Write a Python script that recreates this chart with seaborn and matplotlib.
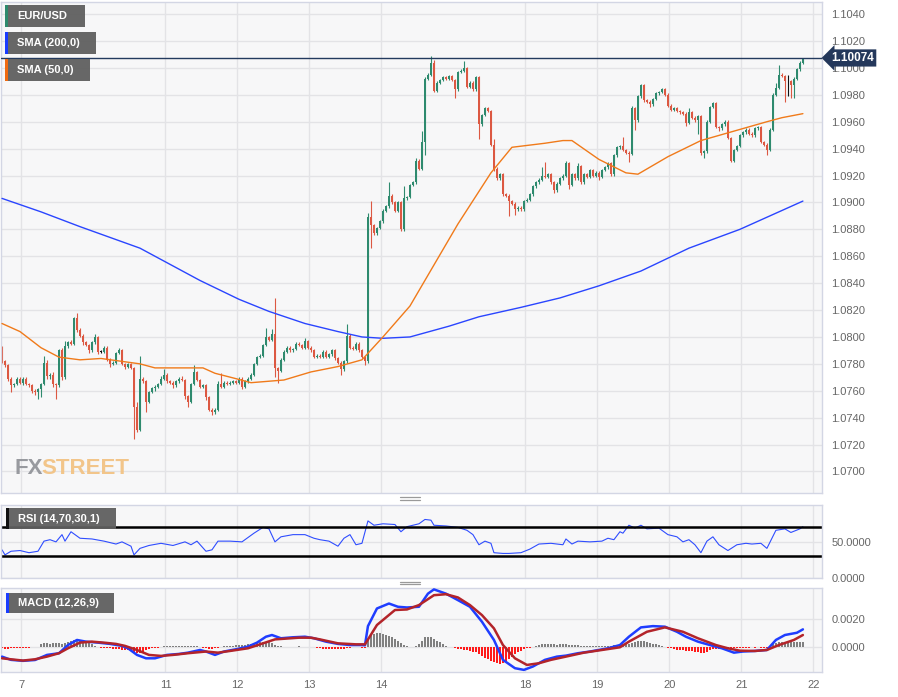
import numpy as np
import matplotlib
matplotlib.use("Agg")
import matplotlib.pyplot as plt
import matplotlib.transforms as mtransforms
from matplotlib.patches import Rectangle
from matplotlib.lines import Line2D
import seaborn as sns

# EUR/USD hourly closes, one list per trading day (hour index 0 = Dec 7 00:00)
open_first = 1.0791
close_dec06 = [1.0782, 1.0779, 1.0769, 1.0764, 1.0765, 1.0769, 1.0766]
close_dec07 = [1.0769, 1.0765, 1.0764, 1.0760, 1.0759, 1.0761, 1.0765, 1.0781, 1.0771, 1.0772, 1.0765, 1.0764,
               1.0790, 1.0770, 1.0793, 1.0796, 1.0795, 1.0814, 1.0805, 1.0801, 1.0796, 1.0794, 1.0790, 1.0796]
close_dec08 = [1.0800, 1.0789, 1.0789, 1.0792, 1.0783, 1.0780, 1.0781, 1.0788, 1.0790, 1.0780, 1.0778, 1.0780,
               1.0777, 1.0748, 1.0731, 1.0769, 1.0767, 1.0752, 1.0759, 1.0762, 1.0763, 1.0765, 1.0769, 1.0772]
close_dec11 = [1.0767, 1.0766, 1.0764, 1.0767, 1.0769, 1.0768, 1.0756, 1.0752, 1.0765, 1.0774, 1.0768, 1.0763,
               1.0764, 1.0755, 1.0746, 1.0744, 1.0746, 1.0765, 1.0763, 1.0766, 1.0765, 1.0766, 1.0767, 1.0766]
close_dec12 = [1.0769, 1.0763, 1.0767, 1.0769, 1.0772, 1.0780, 1.0785, 1.0786, 1.0794, 1.0800, 1.0798, 1.0802,
               1.0777, 1.0775, 1.0783, 1.0789, 1.0792, 1.0790, 1.0791, 1.0795, 1.0794, 1.0792, 1.0797, 1.0792]
close_dec13 = [1.0790, 1.0785, 1.0786, 1.0785, 1.0789, 1.0785, 1.0787, 1.0790, 1.0784, 1.0781, 1.0776, 1.0782,
               1.0801, 1.0792, 1.0791, 1.0795, 1.0790, 1.0785, 1.0782, 1.0889, 1.0883, 1.0877, 1.0881, 1.0886]
close_dec14 = [1.0894, 1.0897, 1.0905, 1.0900, 1.0894, 1.0900, 1.0880, 1.0903, 1.0904, 1.0913, 1.0915, 1.0931,
               1.0925, 1.0945, 1.0992, 1.0995, 1.1004, 1.0983, 1.0989, 1.0991, 1.0993, 1.0992, 1.0994, 1.0991]
close_dec15 = [1.0984, 1.0997, 1.0998, 1.1000, 1.0986, 1.0989, 1.0984, 1.0993, 1.0958, 1.0965, 1.0970, 1.0968,
               1.0943, 1.0925, 1.0918, 1.0921, 1.0906, 1.0905, 1.0901, 1.0899, 1.0895, 1.0896, 1.0895, 1.0901]
close_dec18 = [1.0902, 1.0906, 1.0912, 1.0915, 1.0917, 1.0920, 1.0919, 1.0921, 1.0915, 1.0909, 1.0914, 1.0918,
               1.0920, 1.0929, 1.0913, 1.0921, 1.0918, 1.0927, 1.0915, 1.0921, 1.0919, 1.0924, 1.0920, 1.0922]
close_dec19 = [1.0919, 1.0924, 1.0926, 1.0929, 1.0921, 1.0935, 1.0941, 1.0942, 1.0939, 1.0937, 1.0936, 1.0970,
               1.0961, 1.0979, 1.0987, 1.0976, 1.0975, 1.0973, 1.0977, 1.0981, 1.0982, 1.0984, 1.0980, 1.0972]
close_dec20 = [1.0969, 1.0970, 1.0968, 1.0967, 1.0966, 1.0959, 1.0967, 1.0963, 1.0961, 1.0964, 1.0937, 1.0938,
               1.0960, 1.0971, 1.0974, 1.0956, 1.0955, 1.0958, 1.0960, 1.0948, 1.0931, 1.0939, 1.0942, 1.0950]
close_dec21 = [1.0952, 1.0954, 1.0951, 1.0950, 1.0955, 1.0956, 1.0945, 1.0943, 1.0939, 1.0954, 1.0980, 1.0985,
               1.0995, 1.0994, 1.0990, 1.0990, 1.0987, 1.0992, 1.0999, 1.1004, 1.10074]

# wick lengths beyond the candle body, in pips
wick_up = ([2, 1, 1, 1, 1, 1, 1] +
           [1, 1, 1, 1, 1, 1, 1, 5, 2, 1, 2, 1, 1, 2, 4, 1, 2, 1, 4, 2, 1, 1, 1, 1] +
           [2, 1, 1, 1, 1, 1, 1, 1, 2, 1, 1, 1, 1, 1, 4, 17, 1, 1, 1, 1, 1, 1, 2, 4] +
           [1, 1, 1, 1, 1, 2, 1, 1, 1, 5, 1, 1, 1, 1, 1, 1, 1, 2, 8, 1, 1, 1, 1, 1] +
           [1, 1, 1, 1, 1, 1, 1, 1, 1, 7, 1, 4, 27, 1, 1, 1, 1, 1, 1, 1, 1, 1, 2, 1] +
           [1, 1, 1, 1, 1, 1, 1, 1, 1, 1, 1, 1, 9, 1, 1, 1, 1, 1, 1, 3, 12, 1, 1, 1] +
           [1, 1, 10, 1, 1, 1, 1, 9, 1, 1, 1, 2, 1, 8, 1, 1, 5, 2, 1, 1, 1, 1, 1, 1] +
           [1, 1, 1, 5, 1, 1, 1, 1, 1, 1, 1, 1, 1, 4, 1, 1, 1, 1, 1, 1, 1, 1, 1, 1] +
           [1, 1, 1, 1, 1, 6, 10, 1, 1, 1, 1, 1, 1, 2, 1, 1, 1, 2, 1, 1, 1, 1, 1, 1] +
           [1, 1, 1, 1, 1, 1, 1, 1, 7, 1, 1, 2, 1, 1, 1, 1, 1, 1, 1, 1, 1, 1, 1, 1] +
           [1, 1, 1, 1, 1, 1, 3, 1, 1, 1, 1, 1, 1, 1, 1, 1, 1, 1, 1, 1, 1, 1, 1, 1] +
           [1, 1, 1, 1, 1, 1, 1, 1, 1, 1, 1, 4, 7, 1, 1, 5, 1, 1, 1, 1, 0])
wick_dn = ([1, 1, 2, 5, 1, 1, 1] +
           [2, 1, 1, 2, 2, 5, 6, 1, 2, 2, 2, 10, 1, 2, 1, 1, 1, 1, 1, 1, 2, 1, 2, 1] +
           [1, 2, 1, 1, 1, 2, 1, 1, 1, 1, 2, 1, 1, 24, 2, 1, 1, 8, 1, 1, 2, 1, 1, 1] +
           [1, 1, 2, 1, 1, 1, 2, 4, 1, 1, 1, 1, 1, 2, 1, 2, 1, 1, 1, 1, 1, 1, 1, 1] +
           [1, 2, 1, 1, 1, 1, 1, 1, 1, 1, 1, 1, 7, 9, 1, 1, 1, 1, 1, 1, 1, 1, 1, 1] +
           [1, 1, 1, 1, 1, 1, 1, 1, 1, 1, 4, 1, 1, 1, 1, 1, 1, 1, 3, 1, 17, 1, 1, 1] +
           [1, 1, 1, 1, 1, 1, 1, 1, 1, 1, 1, 1, 1, 1, 10, 1, 1, 1, 1, 1, 1, 1, 1, 1] +
           [6, 1, 1, 1, 1, 1, 1, 1, 11, 1, 1, 1, 1, 2, 1, 1, 1, 1, 11, 1, 4, 1, 1, 1] +
           [1, 1, 1, 1, 1, 1, 1, 1, 1, 2, 1, 1, 1, 1, 3, 1, 1, 1, 1, 1, 1, 1, 1, 1] +
           [2, 1, 1, 1, 1, 1, 1, 1, 1, 1, 6, 1, 7, 1, 1, 1, 1, 2, 1, 1, 1, 1, 1, 1] +
           [1, 1, 1, 1, 1, 2, 1, 1, 1, 10, 2, 4, 1, 1, 1, 1, 2, 1, 1, 1, 1, 1, 1, 1] +
           [1, 1, 1, 1, 1, 1, 1, 1, 4, 1, 1, 1, 1, 1, 15, 11, 9, 9, 1, 1, 1])

# moving averages, sampled at hour index
sma200_t = [-7, 6, 19, 39, 59, 72, 82, 94, 105, 113, 120, 129, 142, 152, 166, 179, 192, 206, 222, 239, 249, 260]
sma200 = [1.0903, 1.0893, 1.0882, 1.0866, 1.0842, 1.0828, 1.0819, 1.0810, 1.0804, 1.0800, 1.0799, 1.0800,
          1.0808, 1.0815, 1.0822, 1.0829, 1.0838, 1.0849, 1.0866, 1.0880, 1.0890, 1.0901]
sma50_t = [-7, -1, 6, 12, 19, 26, 39, 44, 60, 64, 71, 76, 87, 96, 105, 113, 120, 129, 145, 156, 163, 174,
           180, 183, 192, 201, 205, 215, 226, 237, 248, 253, 260]
sma50 = [1.0810, 1.0804, 1.0792, 1.0785, 1.0783, 1.0784, 1.0780, 1.0777, 1.0777, 1.0773, 1.0769, 1.0766,
         1.0768, 1.0774, 1.0778, 1.0783, 1.0800, 1.0823, 1.0884, 1.0922, 1.0941, 1.0944, 1.0946, 1.0946,
         1.0932, 1.0922, 1.0921, 1.0934, 1.0946, 1.0953, 1.0960, 1.0963, 1.0966]

# RSI (14)
rsi_t = [-7, -6, -4, -1, 2, 5, 7, 9, 11, 13, 14, 16, 19, 23, 27, 31, 33, 35, 36, 37, 39, 42, 46, 50, 54, 56,
         58, 61, 63, 65, 69, 73, 77, 80, 82, 84, 86, 90, 94, 97, 99, 102, 105, 107, 109, 111, 113, 115, 117,
         120, 124, 126, 128, 132, 134, 136, 137, 141, 145, 148, 150, 152, 154, 156, 157, 160, 162, 166, 169,
         172, 176, 180, 181, 183, 185, 189, 193, 195, 197, 199, 200, 202, 204, 206, 208, 212, 215, 218, 220,
         222, 224, 226, 228, 230, 232, 235, 238, 241, 243, 246, 248, 251, 254, 256, 259, 260]
rsi = [39, 32, 37, 38, 35, 37, 51, 53, 50, 60, 51, 64, 55, 54, 51, 47, 50, 46, 44, 32, 41, 45, 48, 45, 50, 46,
       51, 37, 39, 51, 51, 50, 62, 70, 68, 50, 57, 60, 60, 55, 53, 51, 44, 55, 60, 46, 48, 79, 73,
       75, 74, 64, 71, 75, 81, 80, 73, 72, 70, 66, 60, 46, 51, 48, 35, 34, 34, 35, 40,
       47, 48, 46, 54, 47, 51, 50, 51, 55, 53, 64, 62, 73, 69, 73, 68, 69, 60, 57, 50,
       53, 46, 35, 51, 57, 46, 38, 46, 48, 47, 48, 41, 66, 68, 63, 68, 71]

# MACD (12,26,9) in units of 1e-5
macd_t = [-7, -4, 0, 4, 8, 12, 15, 18, 21, 25, 29, 33, 35, 38, 41, 44, 48, 52, 55, 59, 61, 64, 67, 71, 75, 78,
          81, 83, 86, 90, 94, 97, 101, 105, 109, 113, 114, 115, 118, 122, 125, 128, 132, 135, 137, 141, 145,
          149, 153, 157, 160, 164, 167, 170, 174, 178, 181, 185, 189, 195, 199, 202, 206, 210, 214, 218, 221,
          225, 229, 233, 237, 240, 244, 248, 251, 254, 258, 260]
macd_e5 = [-66, -89, -96, -90, -54, -42, 16, 52, 40, 33, 24, 10, -7, -54, -78, -78, -54, -47, -38, -19, -30, -54,
           -30, -14, 5, 33, 75, 87, 64, 71, 75, 64, 40, 24, 16, 16, 14, 150, 275, 310, 287, 282, 287, 380, 410,
           380, 334, 287, 181, 52, -89, -148, -160, -136, -89, -66, -59, -42, -30, -7, 16, 75, 141, 150, 146,
           110, 75, 40, 16, -7, -38, -30, -26, -19, 52, 87, 103, 127]
signal_t = [-7, -4, 0, 4, 8, 12, 15, 19, 23, 27, 31, 34, 38, 42, 46, 50, 55, 61, 65, 69, 75, 80, 84, 92, 96,
            99, 105, 111, 114, 118, 124, 128, 132, 137, 141, 145, 149, 153, 157, 160, 164, 168, 172, 176, 181,
            187, 193, 199, 202, 208, 214, 220, 225, 231, 235, 239, 244, 248, 252, 257, 260]
signal_e5 = [-78, -85, -94, -85, -66, -42, -7, 33, 40, 33, 24, 10, -19, -54, -61, -54, -42, -30, -38, -26, -7,
             28, 56, 68, 68, 56, 28, 21, 21, 158, 264, 268, 299, 369, 376, 353, 299, 228, 134, 16, -78, -125,
             -113, -89, -66, -38, -19, 0, 40, 110, 141, 110, 64, 16, -7, -24, -26, -19, 16, 52, 87]
hist_e5 = ([-8, -10, -10, -8, -6, -5, -4] +
           [-3, -2, -2, -1, 0, 3, 20, 28, 28, 26, 28, 30, 28, 26, 30, 35, 42, 50, 52, 50, 46, 40, 32, 22] +
           [10, 4, -3, -6, -8, -8, -10, -12, -15, -18, -20, -22, -26, -32, -38, -38, -32, -22, -14, -8, -5, -2, 4, 8] +
           [10, 10, 12, 12, 10, 10, 12, 12, 10, 10, 8, 4, -4, -8, -10, -10, -8, -4, 4, 8, 10, 12, 12, 14] +
           [14, 16, 18, 20, 22, 26, 30, 34, 38, 40, 38, 30, 18, 10, 6, 5, 5, 4, 4, 5, 6, 5, 4, 3] +
           [2, 0, -4, -8, -10, -12, -12, -14, -14, -14, -12, -10, -4, -2, -1, 0, -1, -2, -2, 60, 85, 95, 100, 98] +
           [95, 88, 82, 75, 62, 48, 30, 14, 6, 4, 4, 10, 25, 45, 70, 72, 70, 60, 48, 38, 25, 12, 5, 2] +
           [-6, -10, -14, -18, -22, -26, -30, -35, -50, -62, -75, -85, -95, -105, -112, -116, -110, -100, -85,
            -70, -50, -35, -25, -15] +
           [-8, -2, 4, 12, 18, 20, 22, 22, 20, 20, 18, 20, 22, 20, 18, 16, 14, 14, 12, 12, 10, 10, 8, 8] +
           [8, 8, 10, 12, 12, 14, 16, 18, 20, 22, 24, 30, 38, 42, 45, 42, 38, 32, 26, 20, 15, 10, 4, -2] +
           [-8, -12, -16, -20, -22, -25, -26, -28, -32, -36, -40, -38, -30, -22, -15, -12, -10, -10, -8, -10,
            -12, -8, -6, -4] +
           [-3, -2, -2, -1, -2, -1, -2, -3, -2, 10, 22, 30, 35, 38, 38, 36, 35, 35, 36, 36, 36])

day_start = [0, 48, 72, 96, 120, 168, 192, 216, 240, 264]
day_labels = ["7", "11", "12", "13", "14", "18", "19", "20", "21", "22"]

UP, DOWN = "#2e8a6e", "#dc5842"
GRID = "#e3e3e6"
W, H = 898, 697

sns.set_style("white")
plt.rcParams["font.family"] = ["Liberation Sans", "DejaVu Sans"]

closes = np.array(close_dec06 + close_dec07 + close_dec08 + close_dec11 + close_dec12 + close_dec13 +
                  close_dec14 + close_dec15 + close_dec18 + close_dec19 + close_dec20 + close_dec21)
n = min(len(closes), len(wick_up), len(wick_dn), len(hist_e5))
closes = closes[:n]
t = np.arange(-7, -7 + n)
opens = np.r_[open_first, closes[:-1]]
body_lo = np.minimum(opens, closes)
body_hi = np.maximum(opens, closes)
highs = body_hi + np.array(wick_up[:n]) * 1e-4
lows = body_lo - np.array(wick_dn[:n]) * 1e-4
ccol = np.where(closes > opens + 1e-7, UP, np.where(closes < opens - 1e-7, DOWN, "#111111"))

fig = plt.figure(figsize=(W / 100, H / 100), dpi=100)
fig.patch.set_facecolor("white")


def panel(top, bottom):
    return fig.add_axes([0.5 / W, 1 - bottom / H, 821 / W, (bottom - top) / H])


ax = panel(2, 493)
ax_rsi = panel(505, 578)
ax_macd = panel(588, 672)

grid_x = [d - 0.5 for d in day_start]
for a in (ax, ax_rsi, ax_macd):
    a.set_facecolor("#f7f7f8")
    a.set_xlim(-7.5, 266.2)
    a.set_xticks(grid_x)
    a.grid(True, color=GRID, lw=1)
    a.set_axisbelow(True)
    for s in a.spines.values():
        s.set_color("#d3d6e4")
        s.set_linewidth(1)
    a.yaxis.tick_right()
    a.tick_params(axis="y", length=0, pad=7, labelsize=8, labelcolor="#666666")
    a.tick_params(axis="x", length=0, labelbottom=False)

# main price panel
ax.vlines(t, lows, highs, colors=ccol, lw=0.8, zorder=2)
ax.bar(t, np.maximum(body_hi - body_lo, 0.00003), bottom=body_lo, width=0.72, color=ccol, lw=0, zorder=2.5)
sns.lineplot(x=sma200_t, y=sma200, ax=ax, color="#2a45ff", lw=1, zorder=3, legend=False)
sns.lineplot(x=sma50_t, y=sma50, ax=ax, color="#f07a1a", lw=1, zorder=3, legend=False)
last = closes[-1]
ax.axhline(last, color="#233a5e", lw=1, zorder=4)
ax.set_ylim(1.0684, 1.1049)
ticks = np.round(np.arange(1.070, 1.1041, 0.002), 4)
ax.set_yticks(ticks)
ax.set_yticklabels([f"{v:.4f}" for v in ticks])
ax.set_xlabel("")
ax.set_ylabel("")
tr = mtransforms.blended_transform_factory(ax.transAxes, ax.transData)
ax.text(1.0115, last, f"{last:.5f}", transform=tr, ha="left", va="center", color="white", fontsize=8.5,
        fontweight="bold", clip_on=False, zorder=10,
        bbox=dict(boxstyle="larrow,pad=0.22", fc="#24385b", ec="none"))

# watermark
wm_fx = fig.text(15 / W, 1 - 474 / H, "FX", fontsize=16, fontweight="bold", color="#8e9096", alpha=0.9)
renderer = fig.canvas.get_renderer()
fx_right = wm_fx.get_window_extent(renderer).x1
fig.text((fx_right - 2.5) / W, 1 - 474 / H, "STREET", fontsize=16, fontweight="bold", color="#f2c384",
         alpha=0.95)

# RSI panel
sns.lineplot(x=rsi_t, y=rsi, ax=ax_rsi, color="#2f4dff", lw=0.8, legend=False)
ax_rsi.axhline(70, color="black", lw=1.8)
ax_rsi.axhline(30, color="black", lw=1.8)
ax_rsi.set_ylim(0, 101)
ax_rsi.set_yticks([0, 50])
ax_rsi.set_yticklabels(["0.0000", "50.0000"])
ax_rsi.set_xlabel("")
ax_rsi.set_ylabel("")

# MACD panel
hist = np.array(hist_e5[:n]) * 1e-5
ax_macd.bar(t, hist, width=0.9, color=np.where(hist >= 0, "#808080", "#ff1a1a"), lw=0, zorder=2)
sns.lineplot(x=macd_t, y=np.array(macd_e5) * 1e-5, ax=ax_macd, color="#1f3dff", lw=1.8, zorder=3, legend=False)
sns.lineplot(x=signal_t, y=np.array(signal_e5) * 1e-5, ax=ax_macd, color="#b3242a", lw=1.8, zorder=3,
             legend=False)
ax_macd.set_ylim(-0.00175, 0.0042)
ax_macd.set_yticks([0, 0.002])
ax_macd.set_yticklabels(["0.0000", "0.0020"])
ax_macd.set_xticklabels(day_labels)
ax_macd.tick_params(axis="x", labelbottom=True, pad=6, labelsize=8, labelcolor="#666666")
ax_macd.set_xlabel("")
ax_macd.set_ylabel("")


# legend tags drawn in figure pixels
def tag(x0, y0, x1, y1, stripe, label):
    fig.patches.append(Rectangle((x0 / W, 1 - y1 / H), (x1 - x0) / W, (y1 - y0) / H, transform=fig.transFigure,
                                 fc="#5f5f5f", ec="none", alpha=0.95, zorder=6))
    fig.patches.append(Rectangle((x0 / W, 1 - y1 / H), 2.5 / W, (y1 - y0) / H, transform=fig.transFigure,
                                 fc=stripe, ec="none", zorder=7))
    fig.text((x0 + 12) / W, 1 - (y0 + y1) / 2 / H, label, color="white", fontsize=8, fontweight="bold",
             va="center", ha="left", zorder=8)


tag(5, 5, 85, 27, UP, "EUR/USD")
tag(5, 32, 96, 54, "#1a3cff", "SMA (200,0)")
tag(5, 59, 90, 81, "#f06a10", "SMA (50,0)")
tag(6, 508, 116, 529, "#111111", "RSI (14,70,30,1)")
tag(6, 593, 114, 613, "#1a3cff", "MACD (12,26,9)")

# panel resize handles
for yy in (497, 499.5, 581.5, 584):
    fig.add_artist(Line2D([400 / W, 420 / W], [1 - yy / H, 1 - yy / H], transform=fig.transFigure,
                          color="#9a9a9a", lw=0.9))

fig.savefig("out.png", dpi=100)
